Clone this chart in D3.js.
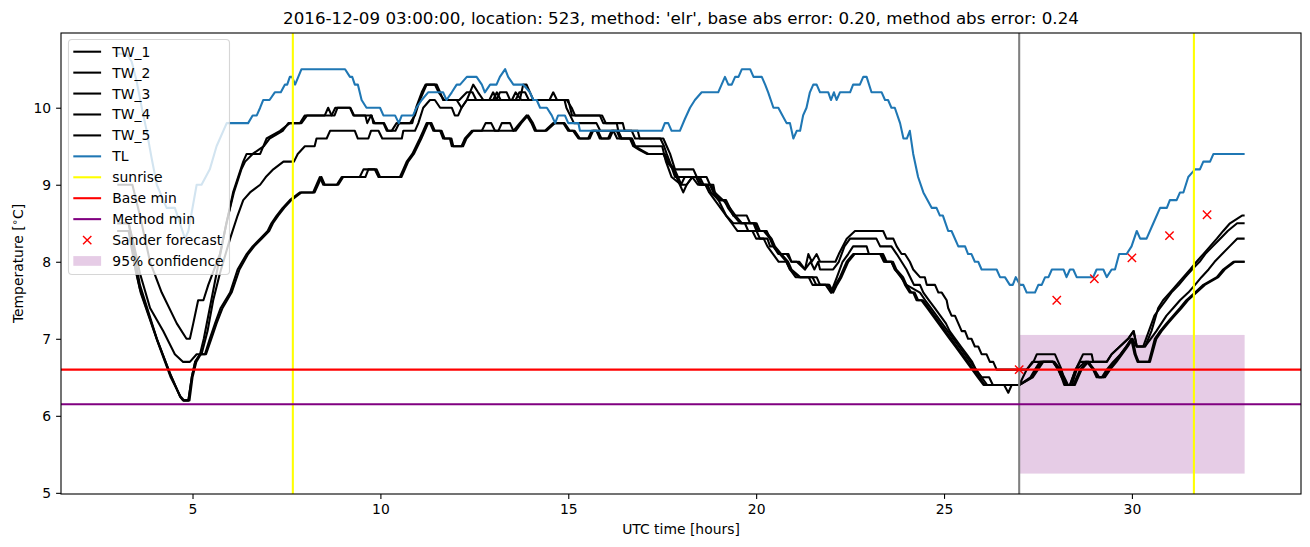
<!DOCTYPE html>
<html><head><meta charset="utf-8">
<script src="https://cdn.jsdelivr.net/npm/d3@7"></script>
<style>body{margin:0;background:#fff}svg{display:block}text{font-family:"DejaVu Sans",sans-serif}</style>
</head><body>
<svg id="c" width="1310" height="547"></svg>
<script>
// ---- data (hours, °C) ----
const xTicks = [5, 10, 15, 20, 25, 30];
const yTicks = [5, 6, 7, 8, 9, 10];
const seriesNames = ["TW_1", "TW_2", "TW_3", "TW_4", "TW_5"];

const tw1 = [[3.0,9.0],[3.4,9.0],[3.6,8.6],[3.87,8.0],[4.18,7.6],[4.58,7.2],[4.84,7.0],[4.93,7.0],[5.02,7.2],[5.15,7.5],[5.29,7.5],[5.42,7.7],[5.73,8.1],[6.08,8.9],[6.35,9.3],[6.44,9.4],[6.8,9.4],[6.97,9.6],[7.33,9.7],[7.59,9.8],[7.86,9.8],[7.99,9.9],[8.52,9.9],[8.61,10.0],[8.7,9.9],[8.78,9.9],[8.86,10.0],[9.19,10.0],[9.28,9.9],[9.77,9.9],[9.81,9.8],[10.08,9.8],[10.17,9.7],[10.3,9.7],[10.43,9.8],[10.79,9.8],[10.92,9.9],[11.05,10.1],[11.23,10.3],[11.5,10.3],[11.59,10.2],[11.67,10.1],[12.03,10.1],[12.16,10.0],[12.3,10.1],[12.47,10.3],[12.6,10.2],[12.74,10.1],[13.09,10.1],[13.18,10.2],[13.36,10.2],[13.45,10.1],[13.71,10.1],[13.8,10.3],[13.89,10.3],[13.98,10.2],[14.07,10.1],[14.96,10.1],[15.09,10.0],[15.18,9.9],[15.84,9.9],[15.93,9.8],[16.29,9.8],[16.33,9.7],[16.69,9.7],[16.78,9.6],[17.53,9.6],[17.62,9.5],[17.71,9.4],[17.84,9.2],[18.33,9.2],[18.42,9.1],[18.68,9.1],[18.77,9.0],[18.86,9.0],[18.9,8.9],[19.12,8.8],[19.3,8.7],[19.39,8.6],[19.75,8.6],[19.84,8.5],[20.01,8.5],[20.1,8.4],[20.28,8.4],[20.37,8.3],[20.46,8.2],[20.63,8.1],[20.81,8.1],[20.94,8.0],[21.08,8.0],[21.3,7.9],[21.39,8.1],[21.48,8.0],[21.61,8.1],[21.7,8.0],[22.11,8.0],[22.2,8.1],[22.41,8.3],[22.63,8.4],[23.38,8.4],[23.47,8.3],[23.65,8.3],[23.74,8.2],[23.87,8.1],[23.96,8.1],[24.09,8.0],[24.18,7.9],[24.36,7.8],[24.49,7.8],[24.54,7.7],[24.76,7.7],[24.85,7.6],[24.94,7.6],[25.07,7.5],[25.11,7.4],[25.2,7.3],[25.29,7.3],[25.38,7.2],[25.47,7.1],[25.56,7.1],[25.64,7.0],[25.73,7.0],[25.82,6.9],[25.91,6.9],[26.0,6.8],[26.13,6.8],[26.22,6.7],[26.31,6.7],[26.4,6.6],[27.2,6.6],[27.38,6.7],[27.47,6.8],[27.95,6.8],[28.04,6.7],[28.13,6.6],[28.22,6.4],[28.35,6.4],[28.5,6.6],[28.7,6.8],[28.93,6.8],[28.97,6.7],[29.33,6.7],[29.46,6.8],[29.68,6.9],[29.9,7.0],[30.04,7.1],[30.13,6.9],[30.35,6.9],[30.52,7.1],[30.7,7.4],[30.83,7.5],[31.01,7.6],[31.19,7.7],[31.37,7.8],[31.55,7.9],[31.72,8.0],[31.9,8.1],[32.08,8.2],[32.26,8.3],[32.43,8.4],[32.61,8.5],[32.93,8.6],[33.0,8.6]];

const tw2 = [[3.0,8.5],[3.3,8.5],[3.45,8.2],[3.6,7.85],[3.87,7.4],[4.22,7.1],[4.53,6.8],[4.75,6.7],[4.93,6.7],[5.11,6.8],[5.24,6.8],[5.4,7.1],[5.55,7.5],[5.73,7.85],[6.0,8.3],[6.2,8.6],[6.35,8.8],[6.53,8.9],[6.8,9.0],[6.95,9.1],[7.15,9.2],[7.42,9.3],[7.7,9.3],[7.8,9.4],[7.99,9.5],[8.25,9.5],[8.3,9.6],[8.57,9.6],[8.66,9.7],[9.32,9.7],[9.4,9.6],[9.68,9.6],[9.75,9.7],[9.95,9.7],[10.05,9.6],[10.57,9.6],[10.61,9.7],[10.92,9.7],[11.01,9.8],[11.14,10.0],[11.32,10.1],[11.45,10.1],[11.59,10.0],[11.9,10.0],[11.98,9.9],[12.07,9.9],[12.16,10.0],[12.3,10.1],[12.9,10.1],[13.0,10.2],[13.1,10.1],[13.5,10.1],[13.6,10.2],[13.75,10.1],[14.5,10.1],[14.6,10.2],[14.7,10.1],[14.9,10.1],[14.95,10.0],[15.05,9.9],[15.15,9.8],[15.75,9.8],[15.85,9.7],[16.2,9.7],[16.3,9.6],[16.7,9.6],[16.78,9.5],[17.5,9.5],[17.6,9.3],[17.75,9.1],[18.0,9.0],[18.1,9.1],[18.3,9.1],[18.45,9.0],[18.65,9.0],[18.75,8.9],[18.9,8.8],[19.05,8.7],[19.2,8.6],[19.35,8.5],[19.5,8.4],[19.9,8.4],[20.0,8.3],[20.2,8.3],[20.3,8.2],[20.45,8.1],[20.6,8.0],[20.8,8.0],[20.9,7.9],[21.05,7.8],[21.4,7.8],[21.5,7.7],[21.85,7.7],[21.99,7.6],[22.07,7.7],[22.15,7.8],[22.3,8.0],[22.45,8.1],[22.58,8.2],[22.94,8.2],[23.0,8.1],[23.3,8.1],[23.4,8.0],[23.6,8.0],[23.7,7.9],[23.85,7.8],[24.0,7.7],[24.36,7.6],[24.5,7.5],[24.65,7.4],[24.8,7.3],[24.95,7.2],[25.1,7.1],[25.25,7.0],[25.4,6.9],[25.55,6.8],[25.7,6.7],[25.85,6.6],[26.0,6.5],[26.15,6.4],[26.6,6.4],[26.71,6.3],[26.8,6.4],[27.0,6.4],[27.3,6.5],[27.42,6.6],[27.55,6.7],[27.91,6.7],[28.04,6.6],[28.13,6.5],[28.26,6.4],[28.4,6.4],[28.53,6.6],[28.75,6.7],[28.84,6.7],[28.97,6.6],[29.06,6.5],[29.2,6.5],[29.33,6.6],[29.5,6.7],[29.7,6.8],[29.85,6.9],[30.0,7.0],[30.13,6.9],[30.35,6.9],[30.5,7.0],[30.65,7.1],[30.92,7.3],[31.1,7.4],[31.28,7.5],[31.5,7.6],[31.68,7.7],[31.85,7.8],[32.04,7.9],[32.2,8.0],[32.4,8.1],[32.6,8.2],[32.8,8.3],[33.0,8.3]];

const tw3 = [[3.0,8.5],[3.3,8.5],[3.45,8.1],[3.6,7.7],[4.05,7.0],[4.4,6.55],[4.67,6.25],[4.75,6.2],[4.89,6.2],[4.98,6.5],[5.07,6.7],[5.2,6.8],[5.3,7.0],[5.5,7.5],[5.7,8.0],[5.9,8.5],[6.1,8.9],[6.3,9.2],[6.4,9.3],[6.6,9.4],[6.9,9.5],[7.05,9.6],[7.4,9.7],[7.55,9.8],[7.9,9.8],[8.05,9.9],[8.7,9.9],[8.8,10.0],[9.2,10.0],[9.3,9.9],[9.6,9.9],[9.65,9.8],[9.75,9.9],[9.85,9.8],[10.1,9.8],[10.2,9.7],[10.4,9.7],[10.5,9.8],[10.85,9.8],[10.95,10.0],[11.1,10.2],[11.2,10.3],[11.45,10.3],[11.55,10.2],[11.7,10.1],[12.1,10.1],[12.3,10.2],[12.45,10.2],[12.55,10.1],[13.0,10.1],[13.1,10.2],[13.2,10.1],[13.6,10.1],[13.7,10.2],[13.85,10.2],[13.95,10.1],[15.0,10.1],[15.1,9.9],[15.9,9.9],[16.0,9.8],[16.45,9.8],[16.5,9.7],[16.85,9.7],[16.9,9.6],[17.45,9.6],[17.55,9.5],[17.62,9.4],[17.7,9.3],[17.84,9.1],[18.4,9.1],[18.5,9.0],[18.7,9.0],[18.8,8.9],[19.0,8.8],[19.2,8.6],[19.39,8.5],[19.7,8.5],[19.79,8.4],[20.01,8.4],[20.1,8.3],[20.3,8.3],[20.37,8.2],[20.46,8.2],[20.59,8.1],[20.86,8.1],[20.94,8.0],[21.15,8.0],[21.3,7.9],[21.45,8.0],[21.55,7.9],[21.65,8.0],[21.7,7.9],[22.05,7.9],[22.2,8.0],[22.35,8.2],[22.5,8.3],[23.2,8.3],[23.3,8.2],[23.6,8.2],[23.74,8.1],[23.87,8.0],[24.0,7.9],[24.1,7.8],[24.2,7.7],[24.36,7.7],[24.45,7.6],[24.6,7.5],[24.75,7.4],[24.9,7.3],[25.05,7.2],[25.15,7.1],[25.3,7.0],[25.45,6.9],[25.6,6.8],[25.75,6.7],[25.85,6.6],[26.0,6.5],[26.2,6.5],[26.3,6.4],[27.0,6.4],[27.1,6.5],[27.2,6.6],[27.35,6.7],[27.9,6.7],[28.04,6.6],[28.13,6.5],[28.2,6.4],[28.35,6.4],[28.5,6.6],[28.62,6.7],[29.33,6.7],[29.46,6.8],[29.68,6.9],[29.9,7.0],[30.05,7.1],[30.13,6.9],[30.3,6.9],[30.45,7.1],[30.6,7.3],[30.75,7.4],[30.9,7.5],[31.05,7.6],[31.25,7.7],[31.42,7.8],[31.6,7.9],[31.8,8.0],[31.95,8.1],[32.15,8.2],[32.35,8.3],[32.55,8.4],[32.8,8.5],[33.0,8.5]];

const tw4 = [[3.0,8.4],[3.34,8.4],[3.51,7.85],[3.6,7.65],[4.05,7.0],[4.4,6.55],[4.67,6.25],[4.75,6.2],[4.89,6.2],[4.98,6.5],[5.07,6.7],[5.2,6.8],[5.33,6.8],[5.46,7.0],[5.6,7.2],[5.75,7.4],[6.0,7.6],[6.2,7.9],[6.44,8.1],[6.6,8.2],[6.8,8.3],[7.0,8.4],[7.1,8.5],[7.24,8.6],[7.4,8.7],[7.59,8.8],[7.86,8.9],[8.21,8.9],[8.3,9.0],[8.39,9.1],[8.48,9.0],[8.84,9.0],[8.97,9.1],[9.45,9.1],[9.55,9.2],[9.85,9.2],[9.95,9.1],[10.52,9.1],[10.61,9.2],[10.7,9.3],[10.85,9.4],[10.95,9.5],[11.05,9.6],[11.14,9.7],[11.23,9.8],[11.32,9.8],[11.41,9.7],[11.59,9.7],[11.67,9.6],[11.85,9.6],[11.9,9.5],[12.16,9.5],[12.25,9.6],[12.43,9.7],[13.14,9.7],[13.23,9.8],[13.45,9.8],[13.54,9.7],[13.71,9.8],[13.89,9.9],[14.02,9.8],[14.11,9.7],[14.38,9.7],[14.6,9.8],[14.87,9.8],[15.0,9.7],[15.13,9.7],[15.27,9.6],[15.53,9.6],[15.62,9.7],[15.75,9.7],[15.84,9.6],[16.06,9.6],[16.15,9.7],[16.29,9.7],[16.38,9.6],[16.64,9.6],[16.73,9.5],[16.9,9.45],[17.09,9.4],[17.53,9.4],[17.62,9.3],[17.79,9.2],[17.88,9.1],[17.97,9.0],[18.06,8.9],[18.15,9.0],[18.3,9.1],[18.45,9.1],[18.55,9.0],[18.77,9.0],[18.86,8.9],[19.0,8.8],[19.15,8.8],[19.25,8.7],[19.4,8.6],[19.58,8.5],[19.93,8.5],[20.01,8.4],[20.2,8.4],[20.37,8.3],[20.46,8.2],[20.63,8.1],[20.81,8.0],[20.9,7.9],[21.14,7.8],[21.61,7.8],[21.7,7.7],[21.92,7.7],[22.01,7.6],[22.11,7.7],[22.23,7.8],[22.41,8.0],[22.58,8.1],[23.34,8.1],[23.43,8.0],[23.6,8.0],[23.69,7.9],[23.87,7.8],[23.96,7.7],[24.09,7.6],[24.18,7.6],[24.27,7.5],[24.4,7.5],[24.55,7.4],[24.7,7.3],[24.85,7.2],[25.0,7.1],[25.15,7.0],[25.3,6.9],[25.45,6.8],[25.6,6.7],[25.75,6.6],[25.9,6.5],[26.05,6.4],[27.0,6.4],[27.33,6.5],[27.46,6.6],[27.6,6.7],[27.9,6.7],[28.07,6.6],[28.16,6.5],[28.26,6.4],[28.44,6.4],[28.62,6.6],[28.8,6.7],[28.97,6.6],[29.1,6.5],[29.24,6.5],[29.38,6.6],[29.55,6.7],[29.7,6.8],[29.85,6.9],[29.98,7.0],[30.07,6.8],[30.15,6.7],[30.45,6.7],[30.61,7.0],[30.75,7.1],[30.92,7.2],[31.1,7.3],[31.28,7.4],[31.45,7.5],[31.68,7.6],[31.9,7.7],[32.26,7.8],[32.43,7.9],[32.7,8.0],[33.0,8.0]];

const tw5 = [[3.0,8.4],[3.3,8.4],[3.48,7.9],[3.62,7.6],[4.08,6.95],[4.42,6.5],[4.68,6.25],[4.78,6.2],[4.92,6.2],[5.0,6.5],[5.1,6.7],[5.22,6.8],[5.36,6.8],[5.5,7.0],[5.64,7.2],[5.8,7.4],[6.04,7.6],[6.25,7.9],[6.48,8.1],[6.64,8.2],[6.84,8.3],[7.04,8.4],[7.14,8.5],[7.28,8.6],[7.44,8.7],[7.63,8.8],[7.9,8.9],[8.25,8.9],[8.34,9.0],[8.43,9.1],[8.52,9.0],[8.88,9.0],[9.01,9.1],[9.6,9.1],[9.68,9.2],[9.9,9.2],[9.99,9.1],[10.56,9.1],[10.65,9.2],[10.74,9.3],[10.89,9.4],[10.99,9.5],[11.09,9.6],[11.18,9.7],[11.27,9.8],[11.36,9.8],[11.45,9.7],[11.63,9.7],[11.71,9.6],[11.89,9.6],[11.94,9.5],[12.2,9.5],[12.29,9.6],[12.47,9.7],[12.7,9.7],[12.8,9.8],[12.95,9.8],[13.05,9.7],[13.6,9.7],[13.75,9.8],[13.93,9.9],[14.06,9.8],[14.15,9.7],[14.42,9.7],[14.64,9.8],[14.9,9.8],[15.04,9.7],[15.17,9.7],[15.31,9.6],[15.57,9.6],[15.66,9.7],[15.79,9.7],[15.88,9.6],[16.1,9.6],[16.19,9.7],[16.33,9.7],[16.42,9.6],[16.68,9.6],[16.77,9.5],[16.95,9.45],[17.13,9.4],[17.57,9.4],[17.66,9.3],[17.83,9.2],[17.92,9.1],[18.01,9.0],[18.15,9.0],[18.3,9.1],[18.5,9.1],[18.6,9.0],[18.8,9.0],[18.9,8.9],[19.04,8.8],[19.2,8.8],[19.3,8.7],[19.45,8.6],[19.62,8.5],[19.97,8.5],[20.05,8.4],[20.24,8.4],[20.41,8.3],[20.5,8.2],[20.67,8.1],[20.85,8.0],[20.94,7.9],[21.18,7.8],[21.5,7.8],[21.6,7.7],[21.95,7.7],[22.05,7.6],[22.15,7.7],[22.27,7.8],[22.45,8.0],[22.62,8.1],[23.38,8.1],[23.47,8.0],[23.64,8.0],[23.73,7.9],[23.91,7.8],[24.0,7.7],[24.13,7.6],[24.22,7.6],[24.31,7.5],[24.44,7.5],[24.59,7.4],[24.74,7.3],[24.89,7.2],[25.04,7.1],[25.19,7.0],[25.34,6.9],[25.49,6.8],[25.64,6.7],[25.79,6.6],[25.94,6.5],[26.09,6.4],[27.0,6.4],[27.36,6.5],[27.5,6.6],[27.64,6.7],[27.94,6.7],[28.1,6.6],[28.2,6.5],[28.3,6.4],[28.48,6.4],[28.66,6.6],[28.84,6.7],[29.0,6.6],[29.13,6.5],[29.28,6.5],[29.42,6.6],[29.59,6.7],[29.74,6.8],[29.89,6.9],[30.02,7.0],[30.1,6.8],[30.18,6.7],[30.48,6.7],[30.65,7.0],[30.79,7.1],[30.96,7.2],[31.14,7.3],[31.32,7.4],[31.49,7.5],[31.72,7.6],[31.94,7.7],[32.3,7.8],[32.47,7.9],[32.74,8.0],[33.0,8.0]];

const tl = [[3.0,10.7],[3.25,10.7],[3.38,10.6],[3.51,10.35],[3.65,10.0],[3.78,9.7],[3.91,9.35],[4.05,9.0],[4.31,8.7],[4.53,8.7],[4.8,8.3],[4.89,8.4],[5.11,9.0],[5.24,9.0],[5.46,9.2],[5.64,9.5],[5.91,9.8],[6.48,9.8],[6.6,9.9],[6.71,9.9],[6.8,10.0],[6.88,10.1],[7.05,10.1],[7.19,10.2],[7.35,10.2],[7.46,10.3],[7.52,10.3],[7.59,10.4],[7.65,10.4],[7.73,10.3],[7.9,10.5],[9.06,10.5],[9.19,10.4],[9.25,10.4],[9.32,10.3],[9.4,10.3],[9.5,10.1],[9.63,10.0],[9.99,10.0],[10.08,9.9],[10.39,9.9],[10.49,9.8],[10.57,9.9],[10.87,9.9],[10.96,10.0],[11.1,10.1],[11.27,10.2],[11.67,10.2],[11.76,10.1],[11.9,10.2],[12.03,10.3],[12.12,10.3],[12.3,10.4],[12.56,10.4],[12.7,10.3],[12.78,10.2],[12.92,10.3],[13.09,10.3],[13.18,10.4],[13.32,10.5],[13.4,10.4],[13.54,10.3],[13.8,10.3],[13.98,10.2],[14.07,10.1],[14.16,10.1],[14.25,10.0],[14.43,10.0],[14.56,9.9],[14.65,9.8],[14.73,9.9],[14.91,9.9],[15.0,9.8],[15.27,9.8],[15.31,9.7],[17.49,9.7],[17.57,9.8],[17.66,9.8],[17.75,9.7],[17.97,9.7],[18.1,9.85],[18.24,10.0],[18.37,10.1],[18.55,10.2],[18.99,10.2],[19.08,10.3],[19.17,10.4],[19.26,10.3],[19.35,10.3],[19.44,10.4],[19.53,10.4],[19.62,10.5],[19.84,10.5],[19.93,10.4],[20.15,10.4],[20.24,10.3],[20.32,10.2],[20.46,10.0],[20.59,10.0],[20.7,9.9],[20.81,9.8],[20.9,9.8],[20.99,9.6],[21.08,9.7],[21.17,9.7],[21.25,9.9],[21.34,10.0],[21.43,10.2],[21.52,10.3],[21.61,10.3],[21.7,10.2],[21.92,10.2],[21.99,10.1],[22.07,10.2],[22.14,10.1],[22.23,10.2],[22.5,10.2],[22.58,10.3],[22.76,10.3],[22.85,10.4],[22.94,10.4],[23.07,10.2],[23.34,10.2],[23.43,10.1],[23.51,10.1],[23.6,10.0],[23.69,10.0],[23.83,9.8],[23.92,9.6],[24.01,9.6],[24.09,9.7],[24.18,9.4],[24.31,9.1],[24.45,8.9],[24.67,8.7],[24.8,8.7],[24.89,8.6],[24.97,8.6],[25.11,8.4],[25.2,8.4],[25.38,8.2],[25.56,8.2],[25.64,8.1],[25.73,8.1],[25.82,8.0],[25.91,8.0],[26.0,7.9],[26.4,7.9],[26.49,7.8],[26.62,7.8],[26.75,7.7],[26.83,7.7],[26.91,7.8],[27.02,7.7],[27.11,7.7],[27.2,7.6],[27.42,7.6],[27.51,7.7],[27.6,7.7],[27.69,7.8],[27.78,7.8],[27.87,7.9],[28.18,7.9],[28.26,7.8],[28.35,7.9],[28.44,7.9],[28.53,7.8],[28.97,7.8],[29.06,7.9],[29.15,7.9],[29.24,7.9],[29.33,7.8],[29.46,7.9],[29.55,7.9],[29.66,8.1],[29.86,8.1],[29.99,8.2],[30.13,8.4],[30.22,8.3],[30.39,8.3],[30.57,8.5],[30.75,8.7],[30.93,8.7],[31.01,8.8],[31.19,8.8],[31.28,8.9],[31.37,8.9],[31.5,9.1],[31.59,9.15],[31.68,9.2],[31.81,9.2],[31.9,9.3],[32.08,9.3],[32.17,9.4],[33.0,9.4]];

const sunriseTimes = [7.67, 31.65];
const forecastTime = 27.0;
const baseMin = 6.6;
const methodMin = 6.15;
const sanderHours = [27, 28, 29, 30, 31, 32];
const sanderValues = [6.6, 7.5, 7.78, 8.05, 8.34, 8.61];
const confidenceHours = [27, 33];
const confidenceRange = [5.25, 7.05];
const titleText = "2016-12-09 03:00:00, location: 523, method: 'elr', base abs error: 0.20, method abs error: 0.24";

// ---- layout ----
const L = 61, R = 1301, T = 33, B = 494;
const svg = d3.select("#c");
svg.append("rect").attr("width",1310).attr("height",547).attr("fill","#fff");
const x = d3.scaleLinear().domain([1.5, 34.5]).range([L, R]);
const y = d3.scaleLinear().domain([4.985, 10.97]).range([B, T]);

svg.append("clipPath").attr("id","clip").append("rect")
  .attr("x",L).attr("y",T).attr("width",R-L).attr("height",B-T);
const g = svg.append("g").attr("clip-path","url(#clip)");

// confidence band
g.append("rect")
  .attr("x", x(confidenceHours[0])).attr("width", x(confidenceHours[1]) - x(confidenceHours[0]))
  .attr("y", y(confidenceRange[1])).attr("height", y(confidenceRange[0]) - y(confidenceRange[1]))
  .attr("fill","purple").attr("fill-opacity",0.2);

const line = d3.line().x(d => x(d[0])).y(d => y(d[1]));
[tw1, tw2, tw3, tw4, tw5].forEach(s => {
  g.append("path").attr("d", line(s)).attr("fill","none").attr("stroke","#000")
    .attr("stroke-width",2.08).attr("stroke-linejoin","round");
});
g.append("path").attr("d", line(tl)).attr("fill","none").attr("stroke","#1f77b4")
  .attr("stroke-width",2.08).attr("stroke-linejoin","round");

sunriseTimes.forEach(t => {
  g.append("line").attr("x1",x(t)).attr("x2",x(t)).attr("y1",T).attr("y2",B)
    .attr("stroke","#ffff00").attr("stroke-width",2.08);
});
g.append("line").attr("x1",x(forecastTime)).attr("x2",x(forecastTime)).attr("y1",T).attr("y2",B)
  .attr("stroke","#808080").attr("stroke-width",2.08);
g.append("line").attr("x1",L).attr("x2",R).attr("y1",y(baseMin)).attr("y2",y(baseMin))
  .attr("stroke","#ff0000").attr("stroke-width",2.08);
g.append("line").attr("x1",L).attr("x2",R).attr("y1",y(methodMin)).attr("y2",y(methodMin))
  .attr("stroke","#800080").attr("stroke-width",2.08);

const ms = 4.17;
sanderHours.forEach((h,i) => {
  const cx = x(h), cy = y(sanderValues[i]);
  g.append("path").attr("d",`M${cx-ms},${cy-ms}L${cx+ms},${cy+ms}M${cx-ms},${cy+ms}L${cx+ms},${cy-ms}`)
    .attr("stroke","#ff0000").attr("stroke-width",1.4).attr("fill","none");
});

// frame
svg.append("rect").attr("x",L).attr("y",T).attr("width",R-L).attr("height",B-T)
  .attr("fill","none").attr("stroke","#000").attr("stroke-width",1.1);

// axes
const fs = "13.9px";
const xa = svg.append("g").attr("transform",`translate(0,${B})`)
  .call(d3.axisBottom(x).tickValues(xTicks).tickSize(4.9).tickPadding(4.9).tickFormat(d3.format("d")));
const ya = svg.append("g").attr("transform",`translate(${L},0)`)
  .call(d3.axisLeft(y).tickValues(yTicks).tickSize(4.9).tickPadding(4.9).tickFormat(d3.format("d")));
[xa, ya].forEach(a => {
  a.select(".domain").remove();
  a.selectAll("line").attr("stroke","#000").attr("stroke-width",1.1);
  a.selectAll("text").attr("font-family","DejaVu Sans").attr("font-size",fs).attr("fill","#000");
});

svg.append("text").attr("x",(L+R)/2).attr("y",24).attr("text-anchor","middle")
  .attr("font-size","16.7px").attr("fill","#000").text(titleText);
svg.append("text").attr("x",(L+R)/2).attr("y",534).attr("text-anchor","middle")
  .attr("font-size",fs).attr("fill","#000").text("UTC time [hours]");
const yl = svg.append("text").attr("transform",`translate(23,${(T+B)/2}) rotate(-90)`)
  .attr("text-anchor","middle").attr("font-size",fs).attr("fill","#000");
yl.append("tspan").text("Temperature [");
yl.append("tspan").attr("dy","-5").attr("font-size","10px").text("\u2218");
yl.append("tspan").attr("dy","5").text("C]");

// legend
const lg = svg.append("g");
lg.append("rect").attr("x",68.5).attr("y",39.5).attr("width",161).attr("height",235).attr("rx",3.5)
  .attr("fill","#fff").attr("fill-opacity",0.8).attr("stroke","#cccccc").attr("stroke-opacity",0.8).attr("stroke-width",1.1);
const entries = [
  ...seriesNames.map(n => ({label:n, type:"line", color:"#000"})),
  {label:"TL", type:"line", color:"#1f77b4"},
  {label:"sunrise", type:"line", color:"#ffff00"},
  {label:"Base min", type:"line", color:"#ff0000"},
  {label:"Method min", type:"line", color:"#800080"},
  {label:"Sander forecast", type:"marker", color:"#ff0000"},
  {label:"95% confidence", type:"patch", color:"purple"}
];
entries.forEach((e,i) => {
  const cy = 51.7 + i*20.93;
  if (e.type === "line") {
    lg.append("line").attr("x1",73.3).attr("x2",101.1).attr("y1",cy).attr("y2",cy)
      .attr("stroke",e.color).attr("stroke-width",2.08);
  } else if (e.type === "marker") {
    const cx = 87.2;
    lg.append("path").attr("d",`M${cx-ms},${cy-ms}L${cx+ms},${cy+ms}M${cx-ms},${cy+ms}L${cx+ms},${cy-ms}`)
      .attr("stroke",e.color).attr("stroke-width",1.4);
  } else {
    lg.append("rect").attr("x",73.3).attr("y",cy-4.9).attr("width",27.8).attr("height",9.7)
      .attr("fill",e.color).attr("fill-opacity",0.2);
  }
  lg.append("text").attr("x",112.3).attr("y",cy).attr("dy","0.36em").attr("font-size",fs)
    .attr("fill","#000").text(e.label);
});
</script>
</body></html>
